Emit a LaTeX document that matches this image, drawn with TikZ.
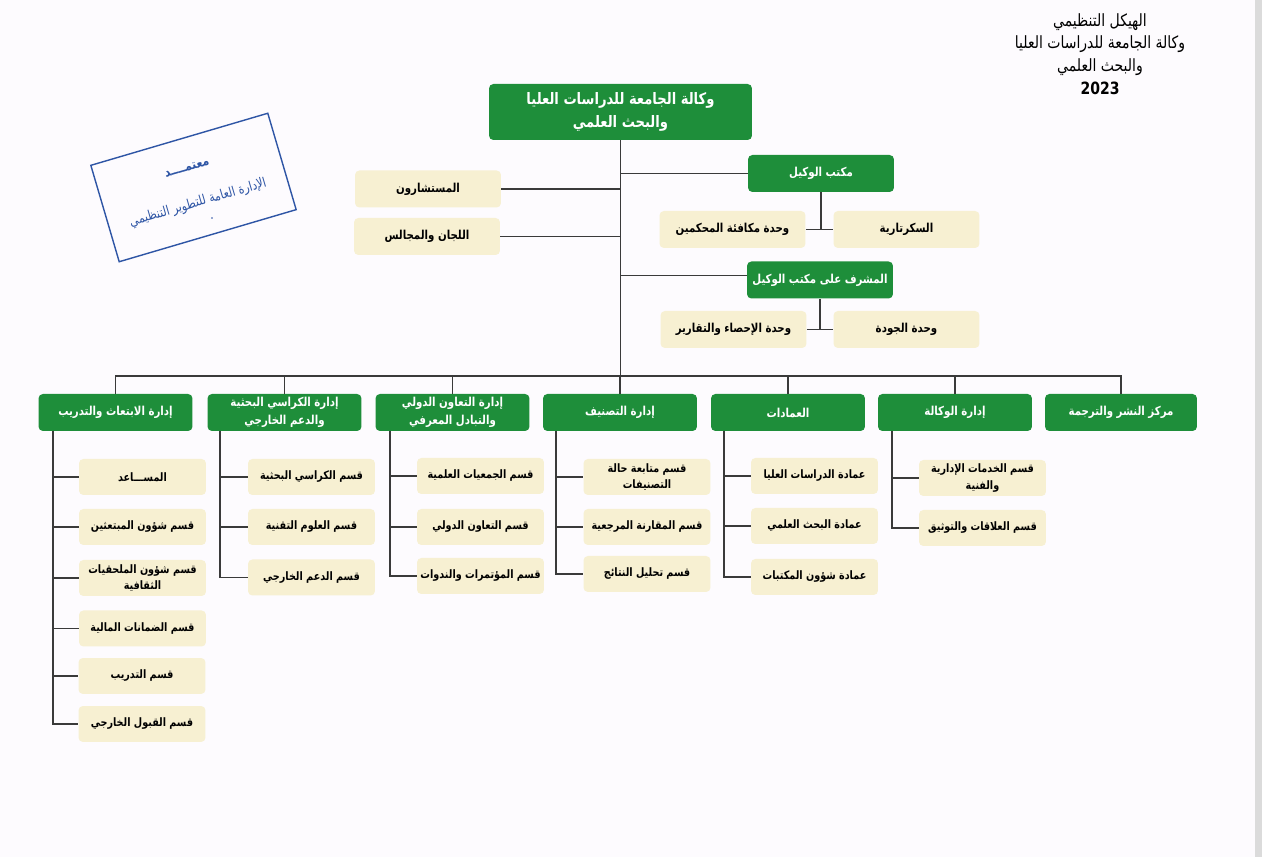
\documentclass[tikz,border=0pt]{standalone}
\usepackage{fontspec}
\usepackage{xcolor}
\usetikzlibrary{positioning}
\TeXXeTstate=1
\newfontfamily\arabicfont[Script=Arabic,FakeStretch=0.83]{DejaVu Sans}
\newfontfamily\arabicbold[Script=Arabic,FakeStretch=0.83]{DejaVu Sans Bold}
\newcommand{\ar}[1]{\beginR #1\endR}
\definecolor{boxgreen}{HTML}{1E8E3A}
\definecolor{boxcream}{HTML}{F7F0D2}
\definecolor{pagetint}{HTML}{FDFBFE}
\definecolor{stampblue}{HTML}{2E55A5}
\definecolor{wiregray}{HTML}{3A3A3A}
\tikzset{
    headbox/.style={fill=boxgreen, text=white, rounded corners=2.5pt, inner sep=0pt, align=center, minimum width=3.08cm, minimum height=0.74cm, font=\fontsize{7}{10}\arabicbold},
    unitbox/.style={fill=boxcream, rounded corners=2.5pt, inner sep=0pt, align=center, minimum width=2.92cm, minimum height=0.74cm, font=\fontsize{7}{10}\arabicbold},
    subbox/.style={unitbox, minimum width=2.54cm, minimum height=0.72cm, font=\fontsize{6.6}{9.5}\arabicbold},
    wire/.style={draw=wiregray, line width=0.75pt},
}

\begin{document}
\begin{tikzpicture}[x=0.02cm, y=-0.02cm]
    \fill[pagetint] (0,0) rectangle (1262,857);
    \fill[gray!28] (1255,0) rectangle (1262,857);
    \useasboundingbox (0,0) rectangle (1262,857);

    % title and stamp
    \node[align=center, font=\fontsize{9.6}{13}\arabicfont] (title) at (1100,54) {\ar{الهيكل التنظيمي}\\\ar{وكالة الجامعة للدراسات العليا}\\\ar{والبحث العلمي}\\{\arabicbold 2023}};
    \node[draw=stampblue, line width=0.8pt, rotate=16.4, minimum width=3.69cm, minimum height=2.01cm, inner sep=0pt] (stamp) at (193.5,187.5) {};
    \node[rotate=16.4, text=stampblue, font=\fontsize{7.5}{8}\arabicbold] (stamptop) at (187,168) {\ar{معتمــــد}};
    \node[rotate=16.4, text=stampblue, font=\fontsize{7.6}{8}\arabicfont] (stampname) at (198,203) {\ar{الإدارة العامة للتطوير التنظيمي}};
    \node[circle, fill=stampblue, inner sep=0pt, minimum size=1pt] (stampdot) at (212,218) {};

    % upper part
    \node[headbox, minimum width=5.26cm, minimum height=1.12cm, font=\fontsize{9}{13}\arabicbold] (vice) at (620.5,112) {\ar{وكالة الجامعة  للدراسات العليا}\\\ar{والبحث العلمي}};
    \node[headbox, minimum width=2.92cm] (office) at (821,173.5) {\ar{مكتب الوكيل}};
    \node[unitbox] (secretary) at (906.5,229.5) {\ar{السكرتارية}};
    \node[unitbox] (reviewers) at (732.5,229.5) {\ar{وحدة مكافئة المحكمين}};
    \node[headbox, minimum width=2.92cm] (supervisor) at (820,280) {\ar{المشرف على مكتب الوكيل}};
    \node[unitbox] (quality) at (906.5,329.5) {\ar{وحدة الجودة}};
    \node[unitbox] (stats) at (733.5,329.5) {\ar{وحدة الإحصاء والتقارير}};
    \node[unitbox] (advisors) at (428,189) {\ar{المستشارون}};
    \node[unitbox] (committees) at (427,236.5) {\ar{اللجان والمجالس}};

    \coordinate (bus) at (620.5,376);
    \draw[wire] (vice.south) -- (bus);
    \draw[wire] (office.west) -- (office.west -| vice.south);
    \draw[wire] ([yshift=0.09cm]supervisor.west) -- ([yshift=0.09cm]supervisor.west -| vice.south);
    \draw[wire] (advisors.east) -- (advisors.east -| vice.south);
    \draw[wire] (committees.east) -- (committees.east -| vice.south);
    \draw[wire] (office.south) -- (office.south |- reviewers.east);
    \draw[wire] (reviewers.east) -- (secretary.west);
    \draw[wire] (supervisor.south) -- (supervisor.south |- stats.east);
    \draw[wire] (stats.east) -- (quality.west);

    % departments
    \node[headbox] (scholarships) at (115.5,412.5) {\ar{إدارة الابتعاث والتدريب}};
    \node[headbox] (chairs) at (284.5,412.5) {\ar{إدارة الكراسي البحثية}\\\ar{والدعم الخارجي}};
    \node[headbox] (cooperation) at (452.5,412.5) {\ar{إدارة التعاون الدولي}\\\ar{والتبادل المعرفي}};
    \node[headbox] (ranking) at (620,412.5) {\ar{إدارة التصنيف}};
    \node[headbox] (deanships) at (788,412.5) {\ar{العمادات}};
    \node[headbox] (agency) at (955,412.5) {\ar{إدارة الوكالة}};
    \node[headbox, minimum width=3.04cm] (publishing) at (1121,412.5) {\ar{مركز النشر والترجمة}};

    \foreach \dept in {scholarships, chairs, cooperation, ranking, deanships, agency, publishing}
        \draw[wire] (\dept.north) |- (bus);

    % sections
    \node[subbox] (assistant) at (142.5,477) {\ar{المســـاعد}};
    \node[subbox] (scholars) at (142.5,527) {\ar{قسم شؤون المبتعثين}};
    \node[subbox] (attaches) at (142.5,578) {\ar{قسم شؤون الملحقيات}\\\ar{الثقافية}};
    \node[subbox] (guarantees) at (142.5,628.5) {\ar{قسم الضمانات المالية}};
    \node[subbox] (training) at (142,676) {\ar{قسم التدريب}};
    \node[subbox] (admission) at (142,724) {\ar{قسم القبول الخارجي}};

    \node[subbox] (chairsec) at (311.5,477) {\ar{قسم الكراسي البحثية}};
    \node[subbox] (techsec) at (311.5,527) {\ar{قسم العلوم التقنية}};
    \node[subbox] (supportsec) at (311.5,577.5) {\ar{قسم الدعم الخارجي}};

    \node[subbox] (societies) at (480.5,476) {\ar{قسم الجمعيات العلمية}};
    \node[subbox] (intlsec) at (480.5,527) {\ar{قسم التعاون الدولي}};
    \node[subbox] (confsec) at (480.5,576) {\ar{قسم المؤتمرات والندوات}};

    \node[subbox] (followup) at (647,477) {\ar{قسم متابعة حالة}\\\ar{التصنيفات}};
    \node[subbox] (benchmark) at (647,527) {\ar{قسم المقارنة المرجعية}};
    \node[subbox] (results) at (647,574) {\ar{قسم تحليل النتائج}};

    \node[subbox] (graddean) at (814.5,476) {\ar{عمادة الدراسات العليا}};
    \node[subbox] (researchdean) at (814.5,526) {\ar{عمادة البحث العلمي}};
    \node[subbox] (libdean) at (814.5,577) {\ar{عمادة شؤون المكتبات}};

    \node[subbox] (services) at (982.5,478) {\ar{قسم الخدمات الإدارية}\\\ar{والفنية}};
    \node[subbox] (relations) at (982.5,528) {\ar{قسم العلاقات والتوثيق}};

    \coordinate (spineA) at (53,431);
    \coordinate (spineB) at (220,431);
    \coordinate (spineC) at (390,431);
    \coordinate (spineD) at (556,431);
    \coordinate (spineE) at (724,431);
    \coordinate (spineF) at (892,431);

    \foreach \sec in {assistant, scholars, attaches, guarantees, training, admission}
        \draw[wire] (spineA) |- (\sec.west);
    \foreach \sec in {chairsec, techsec, supportsec}
        \draw[wire] (spineB) |- (\sec.west);
    \foreach \sec in {societies, intlsec, confsec}
        \draw[wire] (spineC) |- (\sec.west);
    \foreach \sec in {followup, benchmark, results}
        \draw[wire] (spineD) |- (\sec.west);
    \foreach \sec in {graddean, researchdean, libdean}
        \draw[wire] (spineE) |- (\sec.west);
    \foreach \sec in {services, relations}
        \draw[wire] (spineF) |- (\sec.west);
\end{tikzpicture}
\end{document}
